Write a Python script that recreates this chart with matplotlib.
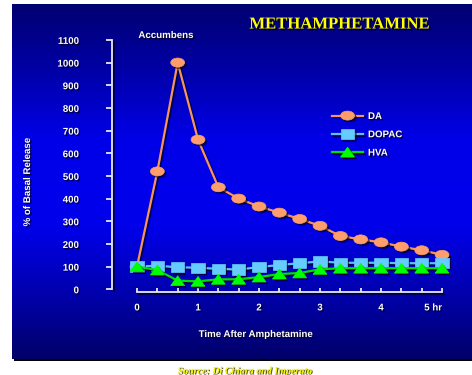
import numpy as np
import matplotlib
matplotlib.use("Agg")
import matplotlib.pyplot as plt
import matplotlib.patheffects as pe
from matplotlib.path import Path
from matplotlib.transforms import Affine2D
from matplotlib.lines import Line2D
from matplotlib.patches import Rectangle

# ---- data -------------------------------------------------------------
hours = [0, 1/3, 2/3, 1, 4/3, 5/3, 2, 7/3, 8/3, 3, 10/3, 11/3, 4, 13/3, 14/3, 5]
da = [100, 520, 1000, 660, 450, 400, 365, 338, 310, 280, 235, 220, 207, 188, 172, 152]
dopac = [100, 104, 97, 95, 90, 87, 98, 107, 115, 123, 117, 117, 117, 115, 115, 115]
hva = [100, 85, 38, 35, 44, 44, 54, 67, 72, 88, 93, 93, 93, 93, 93, 93]
series_names = ["DA", "DOPAC", "HVA"]
y_ticks = [0, 100, 200, 300, 400, 500, 600, 700, 800, 900, 1000, 1100]
x_ticks = [0, 1, 2, 3, 4, 5]
x_tick_labels = ["0", "1", "2", "3", "4", "5 hr"]

SANS = "Liberation Sans"
SERIF = "Liberation Serif"
W, H = 472, 375

fig = plt.figure(figsize=(W / 100, H / 100), dpi=100, facecolor="white")

# ---- slide panel with vertical blue gradient --------------------------
px0, py_top, py_bot = 12, 4, 359
fig.patches.append(Rectangle(((px0 + 1.5) / W, (H - py_bot - 1.8) / H), (W - px0) / W,
                             (py_bot - py_top) / H, transform=fig.transFigure,
                             facecolor="black", edgecolor="none", zorder=-10))
bg = fig.add_axes([px0 / W, (H - py_bot) / H, (W - px0) / W, (py_bot - py_top) / H], zorder=-5)
stops = np.array([0.0, 0.18, 0.38, 0.62, 0.82, 1.0])
blues = np.array([112, 165, 232, 236, 172, 104])
t = np.linspace(0, 1, 400)
b = np.interp(t, stops, blues) / 255.0
grad = np.zeros((400, 1, 3))
grad[:, 0, 2] = b
bg.imshow(grad, aspect="auto", extent=[0, 1, 0, 1], interpolation="bilinear")
bg.set_axis_off()

# ---- main axes ---------------------------------------------------------
ax_l, ax_r, ax_t, ax_b = 112, 450, 39.9, 292
ax = fig.add_axes([ax_l / W, (H - ax_b) / H, (ax_r - ax_l) / W, (ax_b - ax_t) / H], zorder=2)
ax.set_facecolor("none")
ax.set_xlim(-0.41, 5.13)
ax.set_ylim(-12, 1100)

shadow_txt = [pe.withSimplePatchShadow(offset=(1, -1), shadow_rgbFace="black", alpha=0.75)]
line_fx = [pe.SimpleLineShadow(offset=(1.2, -1.2), shadow_color="black", alpha=0.6), pe.Normal()]
mark_fx = [pe.SimplePatchShadow(offset=(1.5, -1.5), shadow_rgbFace="black", alpha=0.6), pe.Normal()]

ellipse = Path.unit_circle().transformed(Affine2D().scale(1, 0.65))
rect = Path([(-1, -0.78), (1, -0.78), (1, 0.78), (-1, 0.78), (-1, -0.78)],
            [Path.MOVETO, Path.LINETO, Path.LINETO, Path.LINETO, Path.CLOSEPOLY])
tri = Path([(-1, -0.71), (1, -0.71), (0, 0.71), (-1, -0.71)],
           [Path.MOVETO, Path.LINETO, Path.LINETO, Path.CLOSEPOLY])

styles = [
    (da, "#F7945C", "#FF9E6A", ellipse, 10, 2),
    (dopac, "#5CC4F2", "#66CCFF", rect, 9.5, 3),
    (hva, "#00E000", "#00FF00", tri, 10, 4),
]
handles = []
for (vals, lc, mc, mk, ms, z), name in zip(styles, series_names):
    ax.plot(hours, vals, color=lc, lw=1.6, zorder=z, clip_on=False, path_effects=line_fx)
    ax.plot(hours, vals, ls="none", marker=mk, ms=ms, mfc=mc, mec=mc, mew=0.5,
            zorder=z + 0.5, clip_on=False, path_effects=mark_fx)
    h = Line2D([], [], color=lc, lw=1.6, marker=mk, ms=ms, mfc=mc, mec=mc, mew=0.5,
               label=name,
               path_effects=[pe.SimplePatchShadow(offset=(1.5, -1.5), shadow_rgbFace="black", alpha=0.6),
                             pe.SimpleLineShadow(offset=(1.2, -1.2), shadow_color="black", alpha=0.6),
                             pe.Normal()])
    handles.append(h)

# ---- spines and ticks -------------------------------------------------
for s in ["top", "right"]:
    ax.spines[s].set_visible(False)
ax.spines["left"].set_bounds(0, 1100)
ax.spines["bottom"].set_bounds(0, 5)
for s in ["left", "bottom"]:
    ax.spines[s].set_color("#E8E8F0")
    ax.spines[s].set_linewidth(1.3)
    ax.spines[s].set_path_effects(line_fx)

ax.set_yticks(y_ticks)
ax.set_yticklabels([str(v) for v in y_ticks])
ax.set_xticks(x_ticks)
ax.set_xticklabels(x_tick_labels)
ax.set_xticks(hours, minor=True)
ax.tick_params(axis="y", direction="out", length=4.3, width=1.3, color="#E8E8F0", pad=19.5)
ax.tick_params(axis="x", which="both", direction="in", length=3, width=1.3, color="#E8E8F0", pad=7.5)

for lab in ax.get_yticklabels() + ax.get_xticklabels():
    lab.set_fontfamily(SANS)
    lab.set_fontweight("bold")
    lab.set_fontsize(7)
    lab.set_color("white")
    lab.set_path_effects(shadow_txt)
ax.get_xticklabels()[-1].set_horizontalalignment("right")

ax.set_xlabel("Time After Amphetamine", fontfamily=SANS, fontweight="bold", fontsize=7,
              color="white", va="center", path_effects=shadow_txt)
ax.xaxis.set_label_coords((256 - ax_l) / (ax_r - ax_l), (ax_b - 334) / (ax_b - ax_t))
ax.set_ylabel("% of Basal Release", fontfamily=SANS, fontweight="bold", fontsize=7,
              color="white", va="center", ha="center", path_effects=shadow_txt)
ax.yaxis.set_label_coords((27 - ax_l) / (ax_r - ax_l), (ax_b - 182) / (ax_b - ax_t))

# ---- legend -------------------------------------------------------------
leg = ax.legend(handles=handles, loc="upper left", frameon=False,
                bbox_to_anchor=((332 - ax_l) / (ax_r - ax_l), (ax_b - 111) / (ax_b - ax_t)),
                prop={"family": SANS, "weight": "bold", "size": 7},
                handlelength=3.2, handletextpad=0.5, labelspacing=0.85, borderaxespad=0,
                borderpad=0)
for txt in leg.get_texts():
    txt.set_color("white")
    txt.set_path_effects(shadow_txt)

# ---- titles -------------------------------------------------------------
fig.text(339 / W, 1 - 24.5 / H, "METHAMPHETAMINE", family=SERIF, weight="bold", fontsize=12,
         color="#FFFF00", ha="center", va="center", zorder=3,
         path_effects=[pe.withSimplePatchShadow(offset=(1.2, -1.2), shadow_rgbFace="black", alpha=0.9)])
fig.text(166 / W, 1 - 35 / H, "Accumbens", family=SANS, weight="bold", fontsize=7,
         color="white", ha="center", va="center", zorder=3, path_effects=shadow_txt)
fig.text(245 / W, 1 - 371 / H, "Source: Di Chiara and Imperato", family=SERIF, weight="bold",
         style="italic", fontsize=7.2, color="#F5F000", ha="center", va="center", zorder=3,
         path_effects=[pe.withSimplePatchShadow(offset=(0.7, -0.7), shadow_rgbFace="#404000", alpha=0.9)])

fig.savefig("out.png", dpi=100, facecolor="white")
